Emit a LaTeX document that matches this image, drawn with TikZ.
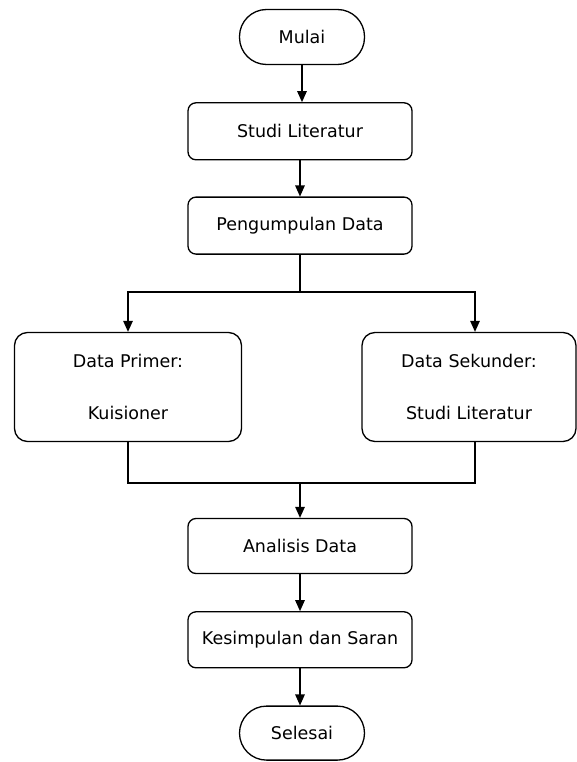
\documentclass[tikz,border=0pt]{standalone}
\usepackage{fontspec}
\setmainfont{DejaVu Sans}
\usetikzlibrary{arrows.meta,positioning}

\begin{document}
\begin{tikzpicture}[x=1pt,y=-1pt,node distance=37pt,>={Triangle[length=11pt,width=9.5pt]},
 term/.style={draw,line width=1.3pt,rounded corners=27pt,minimum width=125pt,minimum height=55pt,font=\fontsize{17.5}{20}\selectfont},
 proc/.style={draw,line width=1.3pt,rounded corners=8pt,minimum width=224pt,minimum height=57pt,font=\fontsize{17.5}{20}\selectfont},
 side/.style={draw,line width=1.3pt,rounded corners=13pt,minimum height=109pt,align=center,font=\fontsize{17.5}{20}\selectfont},
 arr/.style={->,line width=1.3pt},
 ln/.style={line width=1.3pt}]
\useasboundingbox (0,0) rectangle (577,762);
\node[term] (mulai) at (302,37) {Mulai};
\node[proc,below=of mulai,xshift=-2pt] (studi) {Studi Literatur};
\node[proc,below=36pt of studi] (kumpul) {Pengumpulan Data};
\node[side,minimum width=227pt] (primer) at (128,387) {Data Primer:\\[32pt]Kuisioner};
\node[side,minimum width=214pt] (sekunder) at (469,387) {Data Sekunder:\\[32pt]Studi Literatur};
\node[proc,minimum height=55pt] (analisis) at (300,546) {Analisis Data};
\node[proc,below=of analisis,minimum height=56pt] (simpul) {Kesimpulan dan Saran};
\node[term,below=of simpul,xshift=2pt,minimum height=54pt] (selesai) {Selesai};
\coordinate (cabang) at (kumpul.south |- 0,292);
\coordinate (gabung) at (kumpul.south |- 0,483);
\draw[arr] (mulai) -- (mulai |- studi.north);
\draw[arr] (studi) -- (kumpul);
\draw[ln] (kumpul) -- (cabang);
\draw[arr] (cabang) -| (primer.north);
\draw[arr] (cabang) -| ([xshift=6pt]sekunder.north);
\draw[ln] (primer.south) |- (gabung) -| ([xshift=6pt]sekunder.south);
\draw[arr] (gabung) -- (analisis);
\draw[arr] (analisis) -- (simpul);
\draw[arr] (simpul) -- (simpul |- selesai.north);
\end{tikzpicture}
\end{document}
